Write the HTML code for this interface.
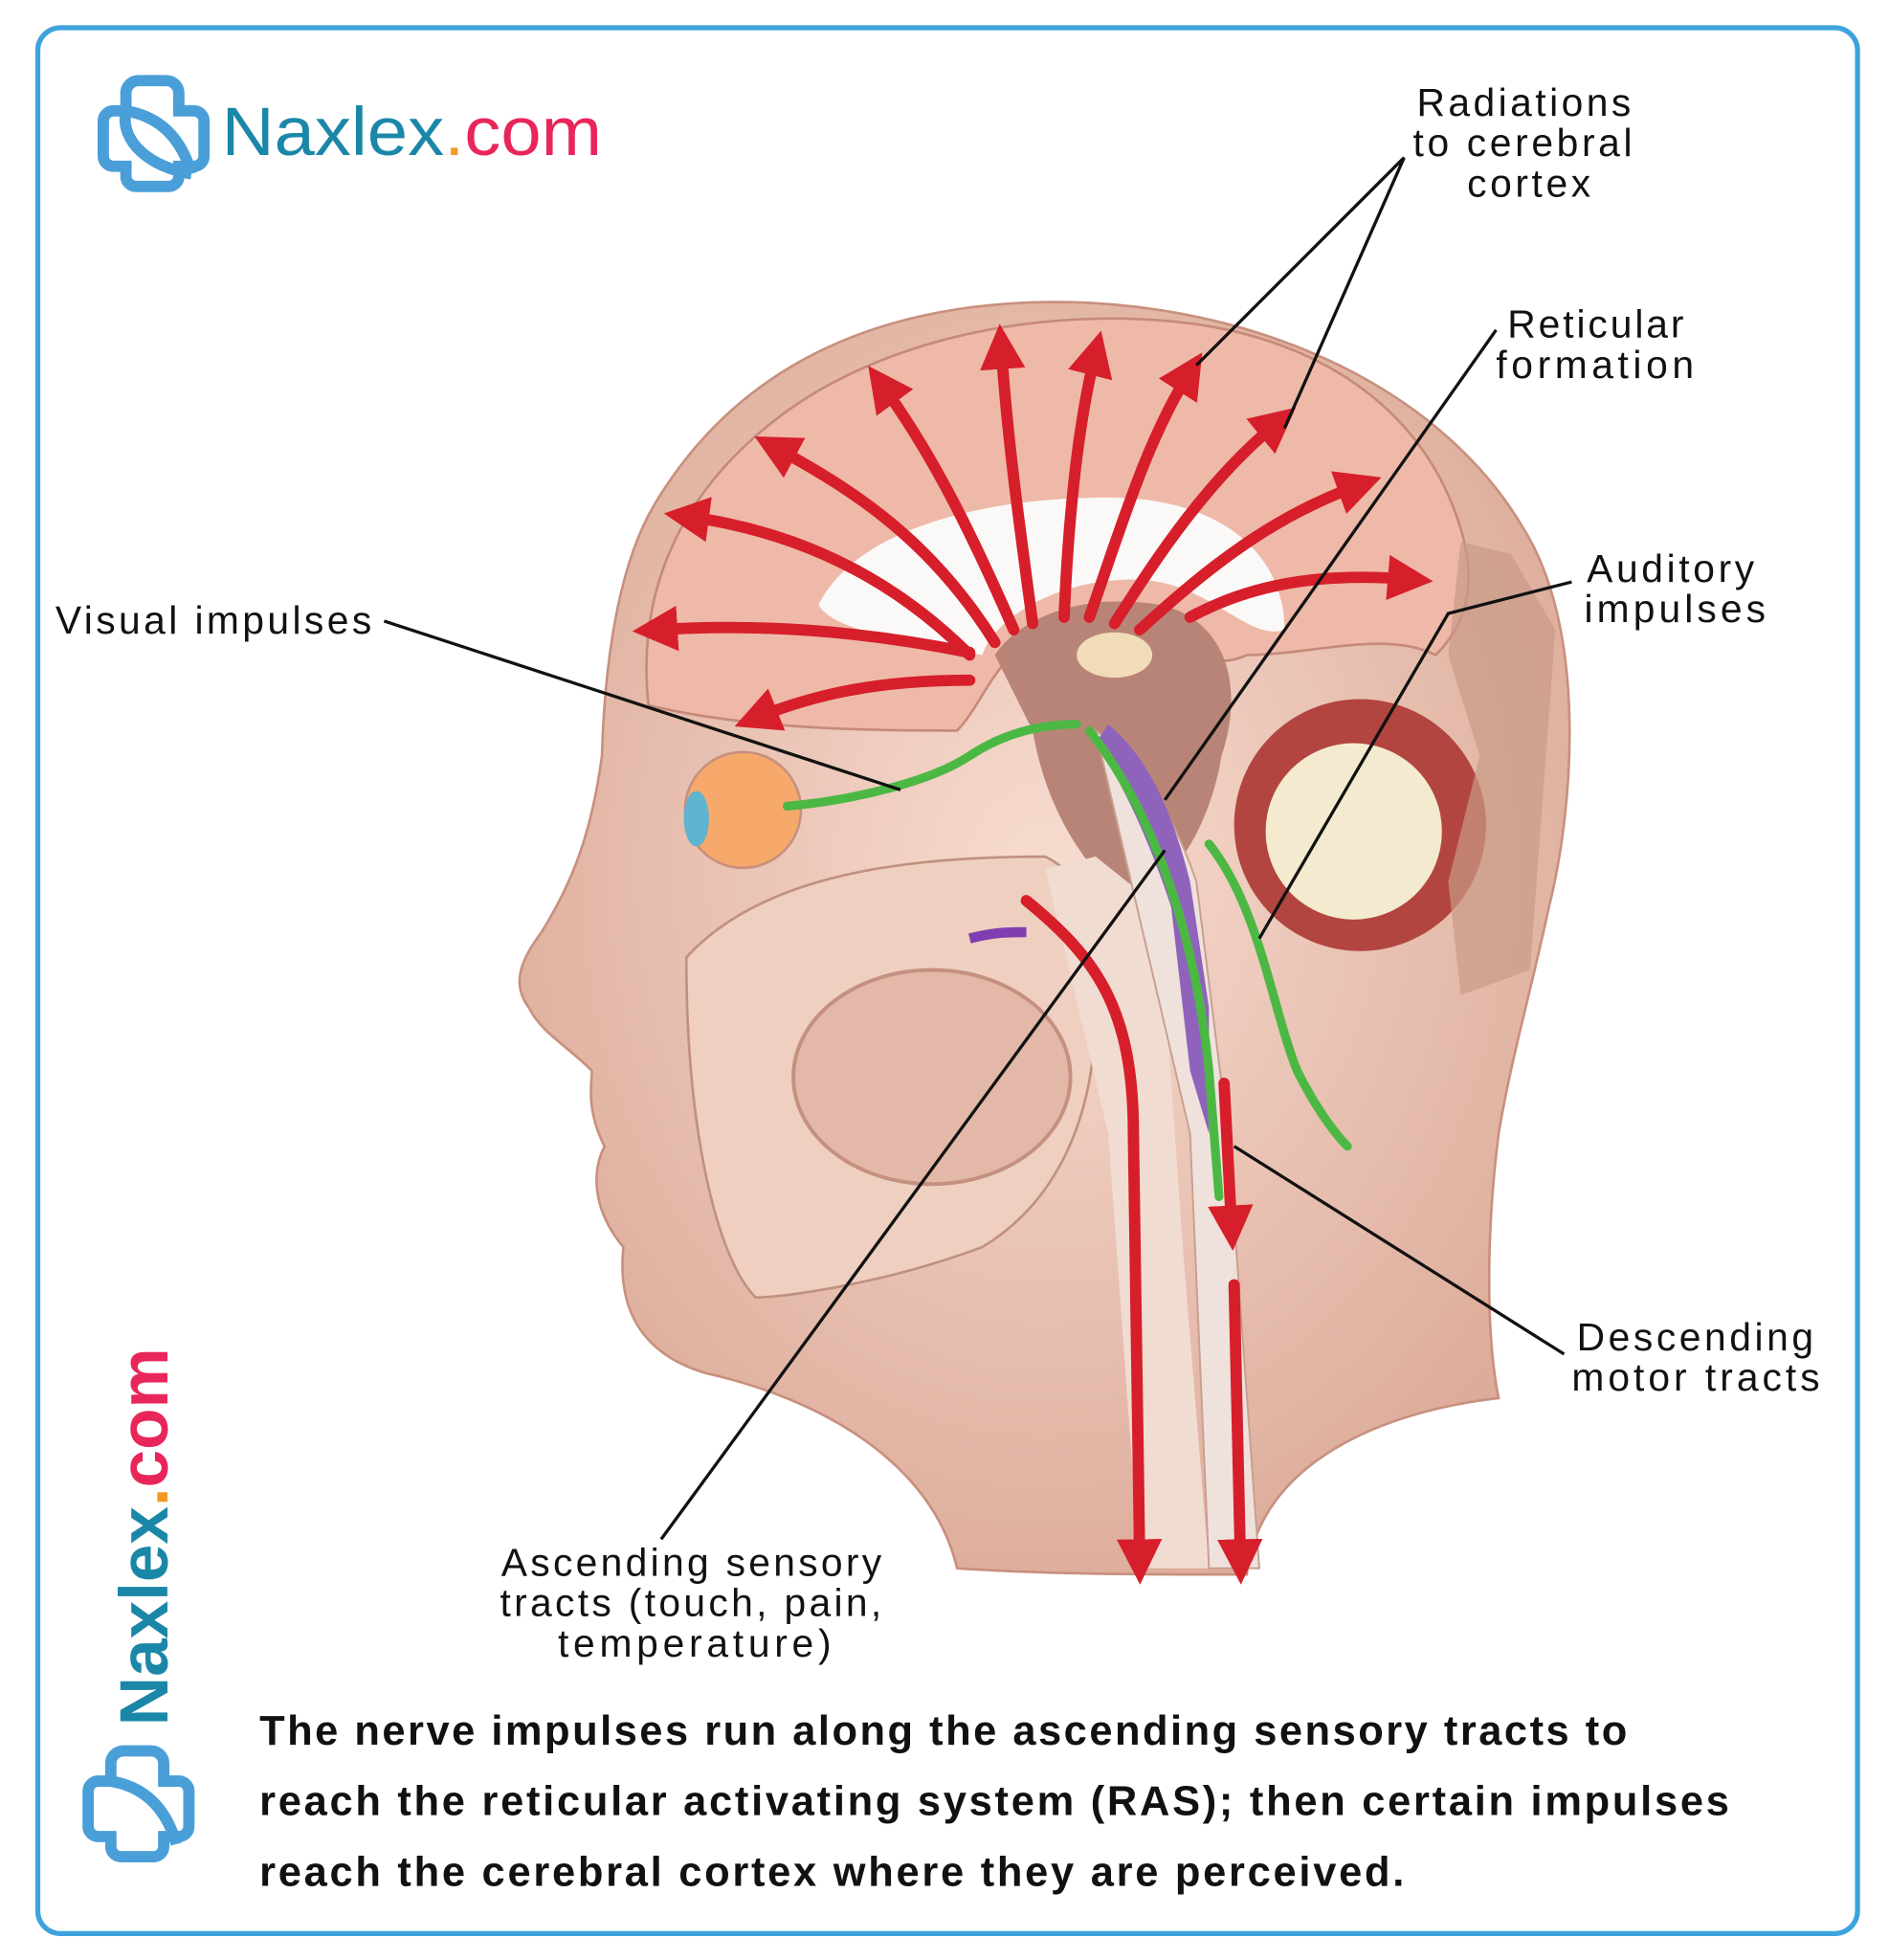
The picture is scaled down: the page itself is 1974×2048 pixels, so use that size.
<!DOCTYPE html>
<html><head><meta charset="utf-8"><style>
html,body{margin:0;padding:0;background:#fff}
svg{display:block}
text{font-family:"Liberation Sans",sans-serif}
</style></head><body>
<svg width="1974" height="2048" viewBox="0 0 1500 1556" preserveAspectRatio="none" xmlns="http://www.w3.org/2000/svg">
<defs>
<marker id="ar" viewBox="0 0 10 10" refX="5" refY="5" markerWidth="4" markerHeight="4" orient="auto"><path d="M0,0 L10,5 L0,10 z" fill="#d61f2a"/></marker>
<radialGradient id="sk" cx="0.5" cy="0.45" r="0.6"><stop offset="0" stop-color="#f7dcd0"/><stop offset="1" stop-color="#dcaa98"/></radialGradient>
</defs>
<rect x="0" y="0" width="1500" height="1556" fill="#fff"/>
<rect x="30" y="22" width="1445" height="1513" rx="18" fill="#fff" stroke="#3ea3dd" stroke-width="4"/>
<!-- logo -->
<g fill="none" stroke="#4a9fd8" stroke-width="9">
<path d="M110,64 h22 a10,10 0 0 1 10,10 v14 h12 a8,8 0 0 1 8,8 v28 a8,8 0 0 1 -8,8 h-12 v8 a8,8 0 0 1 -8,8 h-26 a8,8 0 0 1 -8,-8 v-8 h-10 a8,8 0 0 1 -8,-8 v-28 a8,8 0 0 1 8,-8 h10 v-14 a10,10 0 0 1 10,-10z"/>
<path d="M100,88 c30,5 45,25 52,50"/><path d="M100,88 c-5,25 20,45 52,50"/>
</g>
<text x="176" y="123" font-size="54" fill="#1b87a8" textLength="302" lengthAdjust="spacingAndGlyphs">Naxlex<tspan fill="#f39a25">.</tspan><tspan fill="#e8265a">com</tspan></text>
<!-- vertical logo -->
<text transform="translate(133,1370) rotate(-90)" font-size="54" font-weight="bold" fill="#1b87a8" textLength="300" lengthAdjust="spacingAndGlyphs">Naxlex<tspan fill="#f39a25">.</tspan><tspan fill="#e8265a">com</tspan></text>
<g fill="none" stroke="#4a9fd8" stroke-width="9">
<path d="M98,1390 h22 a10,10 0 0 1 10,10 v14 h12 a8,8 0 0 1 8,8 v28 a8,8 0 0 1 -8,8 h-12 v8 a8,8 0 0 1 -8,8 h-26 a8,8 0 0 1 -8,-8 v-8 h-10 a8,8 0 0 1 -8,-8 v-28 a8,8 0 0 1 8,-8 h10 v-14 a10,10 0 0 1 10,-10z"/>
<path d="M88,1414 c30,5 45,25 52,50"/>
</g>
<!-- head -->
<path d="M760,1245 C740,1160 650,1110 560,1090 C510,1075 490,1040 495,990 C470,960 470,930 480,910 C465,880 470,860 470,850 C450,830 430,820 420,800 C405,780 415,760 430,740 C455,700 470,660 478,600 C480,530 490,450 520,400 C580,300 680,245 820,240 C980,235 1140,300 1210,420 C1260,500 1250,640 1230,720 C1215,790 1200,840 1190,900 C1180,980 1180,1060 1190,1110 C1100,1120 1000,1160 990,1250 C920,1250 830,1250 760,1245 Z" fill="url(#sk)" stroke="#c8907e" stroke-width="2"/>
<!-- brain -->
<path d="M515,560 C505,470 540,390 620,330 C700,270 820,245 930,255 C1040,265 1130,320 1160,420 C1175,470 1160,500 1140,520 C1100,500 1040,520 990,520 C950,540 900,490 830,500 C790,520 780,560 760,580 C700,580 600,580 515,560 Z" fill="#eeb9a8" stroke="#c58a7a" stroke-width="2"/>
<path d="M650,480 C680,420 780,395 880,395 C970,395 1020,440 1020,500 C990,510 960,460 900,460 C840,460 790,490 780,520 C720,510 660,500 650,480 Z" fill="#fbf9f8"/>
<path d="M790,520 C810,490 860,470 920,480 C970,490 990,540 970,600 C960,660 930,700 900,720 C860,690 830,640 820,580 Z" fill="#b98478"/>
<ellipse cx="885" cy="520" rx="30" ry="18" fill="#f2dcb8"/>
<circle cx="1080" cy="655" r="100" fill="#b2453f"/>
<circle cx="1075" cy="660" r="70" fill="#f4ead0"/>
<path d="M1160,430 L1200,440 L1235,500 L1215,770 L1160,790 L1150,700 L1175,600 L1150,520 Z" fill="#c99a88" opacity="0.7"/>
<!-- mouth -->
<path d="M545,760 C600,700 700,680 830,680 C870,700 880,750 870,800 C870,900 830,960 780,990 C700,1020 620,1030 600,1030 C570,1000 545,900 545,760 Z" fill="#efcfc0" stroke="#c09080" stroke-width="2"/>
<ellipse cx="740" cy="855" rx="110" ry="85" fill="#e3b8a8" stroke="#c59080" stroke-width="3"/>
<path d="M830,690 L870,680 L920,720 L940,1000 L960,1245 L905,1245 L880,900 Z" fill="#f1dcd2"/>
<!-- eye -->
<circle cx="590" cy="643" r="46" fill="#f6a96a" stroke="#c8907e" stroke-width="2"/>
<ellipse cx="553" cy="650" rx="10" ry="22" fill="#5fb4cf"/>
<!-- brainstem/spinal -->
<path d="M870,580 C900,600 930,640 950,700 L975,900 L1000,1245 L960,1245 L945,900 Z" fill="#efe2dc" stroke="#c8a090" stroke-width="1.5"/>
<path d="M880,575 C910,600 930,640 945,700 L960,800 L960,900 L945,850 L930,720 C910,660 890,620 870,590 Z" fill="#8f63bb"/>
<!-- red arrows -->
<g stroke="#d61f2a" stroke-width="9" fill="none" marker-end="url(#ar)" stroke-linecap="round">
<path d="M770,520 C700,450 620,420 545,410"/>
<path d="M790,510 C740,430 680,390 615,355"/>
<path d="M805,500 C770,420 740,360 700,305"/>
<path d="M820,495 C810,420 800,350 795,275"/>
<path d="M845,490 C848,420 855,340 870,280"/>
<path d="M865,490 C890,420 910,350 945,295"/>
<path d="M885,495 C920,440 960,380 1015,335"/>
<path d="M905,500 C960,450 1010,410 1080,385"/>
<path d="M945,490 C1000,460 1060,455 1120,460"/>
<path d="M770,540 C700,540 650,550 600,570"/>
<path d="M770,518 C680,500 600,495 520,500"/>
<path d="M815,715 C870,760 900,800 900,900 L905,1240"/>
<path d="M972,860 L978,975"/>
<path d="M980,1020 L985,1240"/>
</g>
<!-- green tracts -->
<g stroke="#4cb844" stroke-width="7" fill="none" stroke-linecap="round">
<path d="M625,640 C680,635 740,620 770,600 C800,580 830,575 855,575"/>
<path d="M865,580 C920,650 950,750 960,850 L968,950"/>
<path d="M960,670 C1000,720 1010,800 1030,850 C1045,880 1060,900 1070,910"/>
</g>
<path d="M770,745 C790,740 800,740 815,740" stroke="#7f3fb0" stroke-width="8" fill="none"/>
<!-- leader lines -->
<g stroke="#111" stroke-width="2.5" fill="none">
<path d="M305,493 L715,627"/>
<path d="M1115,125 L950,290 M1115,125 L1020,340"/>
<path d="M1188,262 L925,635"/>
<path d="M1248,462 L1150,487 L1000,745"/>
<path d="M1242,1075 L980,910"/>
<path d="M525,1222 L925,675"/>
</g>
<!-- labels -->
<g font-size="31" fill="#111" lengthAdjust="spacingAndGlyphs">
<text x="1125" y="92" textLength="170">Radiations</text><text x="1122" y="124" textLength="174">to cerebral</text><text x="1165" y="156" textLength="98">cortex</text>
<text x="1197" y="268" textLength="140">Reticular</text><text x="1188" y="300" textLength="157">formation</text>
<text x="1260" y="462" textLength="133">Auditory</text><text x="1258" y="494" textLength="144">impulses</text>
<text x="1252" y="1072" textLength="188">Descending</text><text x="1248" y="1104" textLength="197">motor tracts</text>
<text x="398" y="1251" textLength="302">Ascending sensory</text><text x="397" y="1283" textLength="303">tracts (touch, pain,</text><text x="443" y="1315" textLength="217">temperature)</text>
<text x="44" y="503" textLength="251">Visual impulses</text>
</g>
<g font-size="33" font-weight="bold" fill="#111" lengthAdjust="spacingAndGlyphs">
<text x="206" y="1385" textLength="1086">The nerve impulses run along the ascending sensory tracts to</text>
<text x="206" y="1441" textLength="1167">reach the reticular activating system (RAS); then certain impulses</text>
<text x="206" y="1497" textLength="909">reach the cerebral cortex where they are perceived.</text>
</g>
</svg>
</body></html>
